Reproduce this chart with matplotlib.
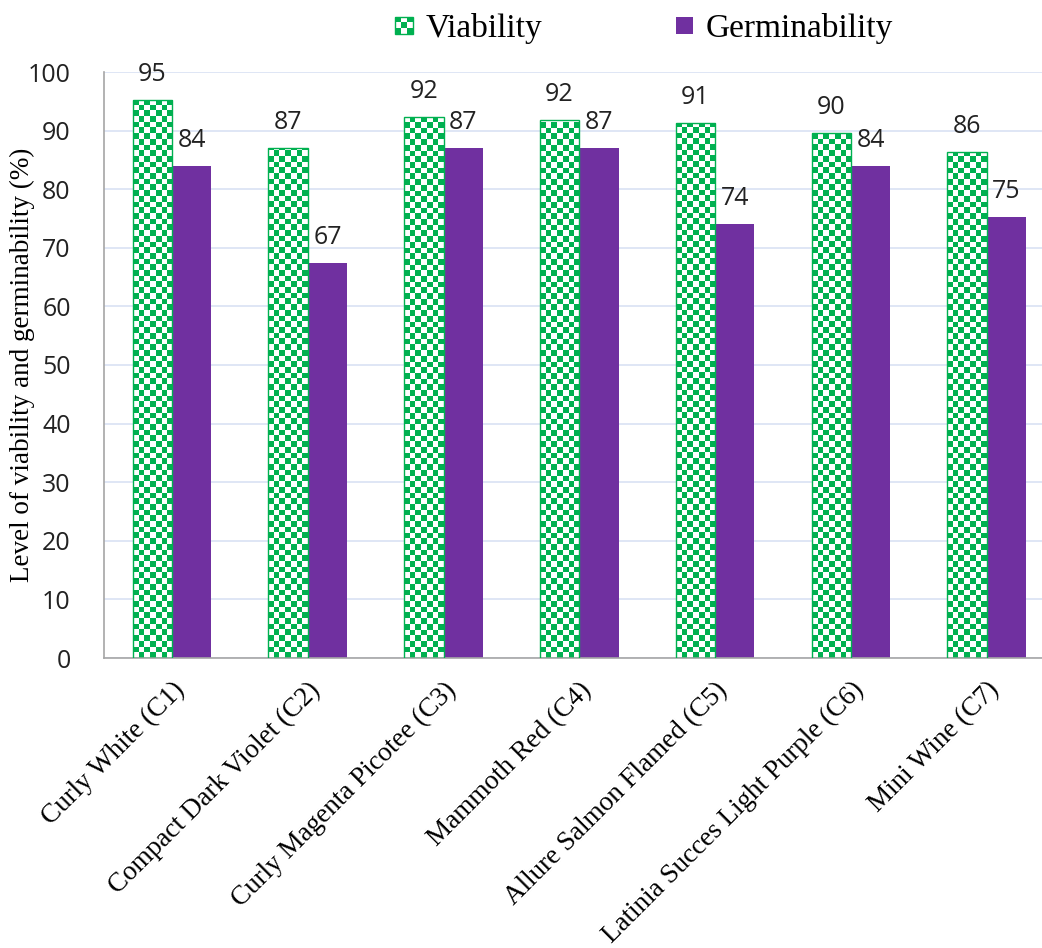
import numpy as np
import matplotlib
matplotlib.use("Agg")
import matplotlib.pyplot as plt
from matplotlib.colors import ListedColormap
from matplotlib.patches import Rectangle
from matplotlib.legend_handler import HandlerBase

# data
cultivars = ["Curly White (C1)", "Compact Dark Violet (C2)", "Curly Magenta Picotee (C3)",
             "Mammoth Red (C4)", "Allure Salmon Flamed (C5)", "Latinia Succes Light Purple (C6)",
             "Mini Wine (C7)"]
viability = [95.3, 87.1, 92.3, 91.8, 91.3, 89.6, 86.3]
germinability = [84.0, 67.4, 87.1, 87.1, 74.1, 84.0, 75.3]

GREEN = "#00B050"
PURPLE = "#7030A0"
W = 0.29
CELL = 5.7  # checker cell in pixels

fig = plt.figure(figsize=(10.42, 9.48), dpi=100)
ax = fig.add_axes([104 / 1042, 290 / 948, 7 * 135.8 / 1042, 586 / 948])

x = np.arange(len(cultivars))
ax.set_xlim(-0.5, 6.5)
ax.set_ylim(0, 100)

bv = ax.bar(x - W / 2, viability, W, color="white", edgecolor=GREEN, linewidth=1, zorder=2)
bg = ax.bar(x + W / 2, germinability, W, color=PURPLE, zorder=2)

# checkerboard fill for viability bars
cmap = ListedColormap(["white", GREEN])
fig.canvas.draw()
px_x = ax.transData.transform((1, 0))[0] - ax.transData.transform((0, 0))[0]
px_y = ax.transData.transform((0, 1))[1] - ax.transData.transform((0, 0))[1]
for b in bv:
    x0, w, h = b.get_x(), b.get_width(), b.get_height()
    nc = max(1, int(round(w * px_x / CELL)))
    nr = max(1, int(round(h * px_y / CELL)))
    chk = (np.add.outer(np.arange(nr), np.arange(nc)) % 2).astype(float)
    im = ax.imshow(chk, cmap=cmap, vmin=0, vmax=1, extent=(x0, x0 + w, 0, nr * CELL / px_y),
                   origin="lower", interpolation="nearest", aspect="auto", zorder=2.5)
    im.set_clip_path(b)
ax.set_aspect("auto")
ax.set_xlim(-0.5, 6.5)
ax.set_ylim(0, 100)
for b in bv:
    b.set_facecolor("none")
    b.set_zorder(3)

# labels
for b, v in zip(bv, viability):
    ax.text(b.get_x() + b.get_width() / 2, v + 2.2, "%.0f" % v, ha="center", va="bottom",
            fontsize=18, family="Open Sans", color="#222222")
for b, v in zip(bg, germinability):
    ax.text(b.get_x() + b.get_width() / 2, v + 2.2, "%.0f" % v, ha="center", va="bottom",
            fontsize=18, family="Open Sans", color="#222222")

ax.set_yticks(range(0, 101, 10))
ax.yaxis.grid(True, color="#D9E2F3", linewidth=1.2, zorder=0)
ax.set_axisbelow(True)
for s in ["top", "right"]:
    ax.spines[s].set_visible(False)
for s in ["left", "bottom"]:
    ax.spines[s].set_color("#A6A6A6")
    ax.spines[s].set_linewidth(1.2)
ax.tick_params(axis="both", length=0)
ax.tick_params(axis="y", labelsize=18, pad=24)
for t in ax.get_yticklabels():
    t.set_family("Open Sans")
    t.set_color("#222222")
ax.set_xticks(x)
ax.set_xticklabels(cultivars, rotation=45, ha="right", rotation_mode="anchor",
                   family="Liberation Serif", fontsize=19.5)
ax.tick_params(axis="x", pad=14)
ax.set_ylabel("Level of viability and germinability (%)", family="Liberation Serif",
              fontsize=19.5)
ax.yaxis.set_label_coords(-0.073, 0.5)


# legend
class CheckerHandler(HandlerBase):
    def create_artists(self, legend, orig, xd, yd, width, height, fontsize, trans):
        s = min(width, height) * 0.75
        x0 = xd + (width - s) / 2
        y0 = yd + (height - s) / 2
        arts = [Rectangle((x0, y0), s, s, facecolor="white", edgecolor=GREEN, lw=1, transform=trans)]
        n = 3
        c = s / n
        for i in range(n):
            for j in range(n):
                if (i + j) % 2 == 0:
                    arts.append(Rectangle((x0 + i * c, y0 + j * c), c, c, facecolor=GREEN,
                                          edgecolor="none", transform=trans))
        return arts


class SquareHandler(HandlerBase):
    def create_artists(self, legend, orig, xd, yd, width, height, fontsize, trans):
        s = min(width, height) * 0.75
        return [Rectangle((xd + (width - s) / 2, yd + (height - s) / 2), s, s,
                          facecolor=PURPLE, edgecolor="none", transform=trans)]


h1 = Rectangle((0, 0), 1, 1)
h2 = Rectangle((0, 0), 1, 1)
fig.legend([h1, h2], ["Viability", "Germinability"], loc="center", bbox_to_anchor=(0.617, 0.97),
           ncol=2, frameon=False, columnspacing=3.9, handlelength=0.7, handletextpad=0.3,
           handler_map={h1: CheckerHandler(), h2: SquareHandler()},
           prop={"family": "Liberation Serif", "size": 24})

fig.savefig("out.png", dpi=100)
